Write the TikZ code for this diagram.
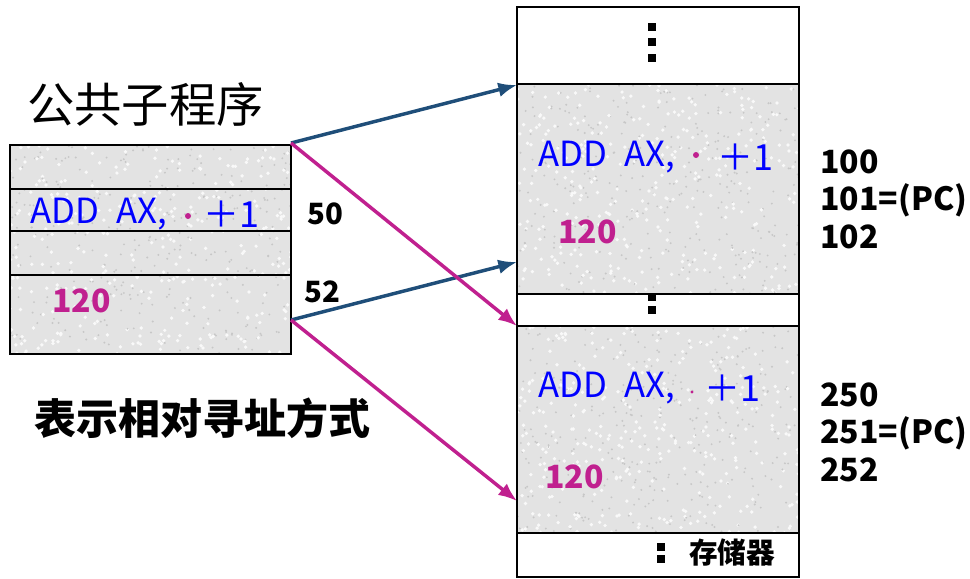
\documentclass[tikz,border=0pt]{standalone}
\usepackage{fontspec}
\usetikzlibrary{arrows.meta}
\setmainfont{Noto Sans CJK SC}
\begin{document}
\begin{tikzpicture}[x=0.75pt,y=-0.75pt]
\definecolor{navy}{HTML}{1F4E79}
\definecolor{mag}{HTML}{C0208F}
\definecolor{blu}{HTML}{0000FF}
\definecolor{cellgray}{HTML}{E3E3E3}
\tikzset{
  cell/.style={draw=black, line width=1.2pt},
  gcell/.style={cell, fill=cellgray},
  wcell/.style={cell, fill=white},
  arr/.style={line width=2.6pt, -{Latex[length=14pt,width=11pt]}},
  instr/.style={text=blu, font=\fontsize{26}{26}\selectfont, inner sep=0pt, anchor=west},
  plus/.style={text=blu, font=\fontsize{27}{27}\selectfont, inner sep=0pt, anchor=west},
  val/.style={text=mag, font=\bfseries\fontsize{24}{24}\selectfont, inner sep=0pt, anchor=west},
  addr/.style={font=\bfseries\fontsize{24}{24}\selectfont, inner sep=0pt, anchor=west},
  offs/.style={font=\bfseries\fontsize{22}{22}\selectfont, inner sep=0pt, anchor=west},
  vdot/.style={fill=black, minimum size=6pt, inner sep=0pt},
  mdot/.style={fill=mag, circle, minimum size=4.5pt, inner sep=0pt},
}
\newcommand\speckle[4]{%
  \begin{scope}
    \clip (#1,#2) rectangle (#3,#4);
    \pgfmathsetseed{#1#2}
    \foreach \k in {1,...,320}{%
      \pgfmathsetmacro\sx{#1+rnd*(#3-#1)}%
      \pgfmathsetmacro\sy{#2+rnd*(#4-#2)}%
      \fill[white!80!cellgray] (\sx,\sy) circle[radius=1.4pt];
      \pgfmathsetmacro\tx{#1+rnd*(#3-#1)}%
      \pgfmathsetmacro\ty{#2+rnd*(#4-#2)}%
      \fill[black!22] (\tx,\ty) circle[radius=0.8pt];
    }
  \end{scope}}
\useasboundingbox (0,0) rectangle (970,578);
% left block
\fill[cellgray] (10,145) rectangle (291,354);
\speckle{10}{145}{291}{354}
\path[cell] (10,145) rectangle (291,189);
\path[cell] (10,189) rectangle (291,231);
\path[cell] (10,231) rectangle (291,275);
\path[cell] (10,275) rectangle (291,354);
\node[instr] (li) at (30,214) {ADD\hspace{13pt}AX,};
\node[mdot] (ldot) at (188,216) {};
\node[plus] (lp) at (203,214) {＋1};
\node[val] (lv) at (52,301) {120};
\coordinate (L1) at (291,143);
\coordinate (L2) at (291,320);
\node[font=\fontsize{35.5}{36}\selectfont, inner sep=0pt, anchor=west] (title) at (27,104) {公共子程序};
\node[font=\bfseries\fontsize{31.5}{32}\selectfont, inner sep=0pt, anchor=west] (cap) at (34,418) {表示相对寻址方式};
\node[offs] (o50) at (307,214) {50};
\node[offs] (o52) at (304,292) {52};
% right block
\path[wcell] (517,7) rectangle (799,84);
\fill[cellgray] (517,84) rectangle (799,294);
\speckle{517}{84}{799}{294}
\path[cell] (517,84) rectangle (799,294);
\path[wcell] (517,294) rectangle (799,326);
\fill[cellgray] (517,326) rectangle (799,533);
\speckle{517}{326}{799}{533}
\path[cell] (517,326) rectangle (799,533);
\path[wcell] (517,533) rectangle (799,577);
\node[vdot] (d1) at (652,27) {};
\node[vdot] (d2) at (652,42) {};
\node[vdot] (d3) at (652,58) {};
\node[vdot] (d0) at (652,297) {};
\node[vdot] (d4) at (652,310) {};
\node[vdot] (d5) at (661,547) {};
\node[vdot] (d6) at (661,559) {};
\draw[line width=1.2pt] (517,294) -- (799,294);
\node[font=\bfseries\fontsize{21.5}{22}\selectfont, inner sep=0pt, anchor=west] (mem) at (689,553) {存储器};
\node[instr] (ri1) at (538,157) {ADD\hspace{13pt}AX,};
\node[mdot] (rdot1) at (696,155) {};
\node[plus] (rp1) at (717,157) {＋1};
\node[val] (rv1) at (558,232) {120};
\node[instr] (ri2) at (538,388) {ADD\hspace{13pt}AX,};
\node[mdot, minimum size=2.5pt] (rdot2) at (692,392) {};
\node[plus] (rp2) at (704,388) {＋1};
\node[val] (rv2) at (545,477) {120};
\coordinate (R1) at (517,85);
\coordinate (R2) at (517,262);
\coordinate (R3) at (517,326);
\coordinate (R4) at (517,501);
% addresses
\node[addr] (a100) at (820,162) {100};
\node[addr] (a101) at (820,200) {101=(PC)};
\node[addr] (a102) at (820,237) {102};
\node[addr] (a250) at (820,395) {250};
\node[addr] (a251) at (820,433) {251=(PC)};
\node[addr] (a252) at (820,470) {252};
% arrows
\draw[arr, navy] (L1) -- (R1);
\draw[arr, navy] (L2) -- (R2);
\draw[arr, mag] (L1) -- (R3);
\draw[arr, mag] (L2) -- (R4);
\end{tikzpicture}
\end{document}
